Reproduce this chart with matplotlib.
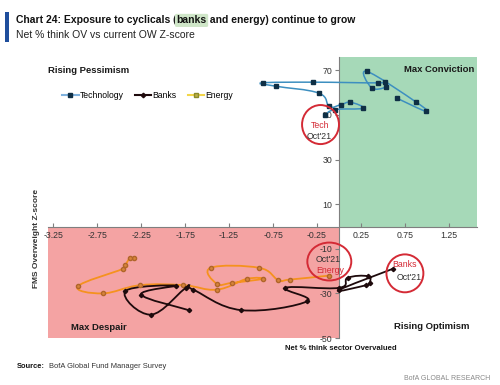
import numpy as np
import matplotlib
matplotlib.use("Agg")
import matplotlib.pyplot as plt
from matplotlib.path import Path
from matplotlib.patches import PathPatch, Ellipse, Rectangle
from matplotlib.lines import Line2D

# ---------------- data ----------------
tech_x = [0.66, 0.99, 0.88, 0.32, 0.37, 0.53, 0.52, 0.44, -0.29, -0.87, -0.72, -0.23, -0.11, 0.02, 0.13, 0.27, -0.05, -0.16]
tech_y = [57.5, 51.6, 55.7, 69.5, 62.2, 62.5, 65.0, 64.4, 64.7, 64.4, 62.9, 59.8, 53.8, 54.6, 55.7, 53.0, 52.4, 49.9]

banks_x = [-1.71, -2.25, -1.85, -2.43, -2.14, -1.74, -1.66, -1.11, -0.36, -0.61, 0.00, 0.10, 0.33, 0.35, 0.31, 0.00, 0.61]
banks_y = [-37.5, -30.5, -26.5, -29.0, -39.5, -27.5, -28.3, -37.5, -33.5, -27.5, -27.5, -23.0, -22.3, -25.3, -26.3, -28.5, -19.0]

energy_x = [-2.33, -2.38, -2.43, -2.46, -2.97, -2.69, -2.26, -1.77, -1.39, -1.05, -0.87, -1.22, -1.39, -1.46, -0.91, -0.69, -0.56, -0.11]
energy_y = [-14.3, -14.3, -17.3, -19.0, -26.8, -30.0, -26.3, -26.3, -28.3, -23.5, -23.5, -25.3, -25.7, -18.5, -18.5, -24.0, -23.8, -22.0]

x_ticks = [-3.25, -2.75, -2.25, -1.75, -1.25, -0.75, -0.25, 0.25, 0.75, 1.25]
y_ticks = [-50, -30, -10, 10, 30, 50, 70]
series_names = ["Technology", "Banks", "Energy"]

plt.rcParams['font.family'] = ['Liberation Sans', 'DejaVu Sans']

fig = plt.figure(figsize=(5, 3.85), dpi=100)
ax = fig.add_axes([0.096, 0.122, 0.858, 0.730])
XMIN, XMAX, YMIN, YMAX = -3.31, 1.57, -50, 76
ax.set_xlim(XMIN, XMAX)
ax.set_ylim(YMIN, YMAX)

# quadrant backgrounds
ax.add_patch(Rectangle((XMIN, YMIN), 0 - XMIN, 0 - YMIN, facecolor="#f4a3a3", edgecolor="none", zorder=0))
ax.add_patch(Rectangle((0, 0), XMAX, YMAX, facecolor="#a6d9b8", edgecolor="none", zorder=0))

def smooth_path(xs, ys, t=0.6):
    pts = np.column_stack([xs, ys]).astype(float)
    n = len(pts)
    verts = [pts[0]]
    codes = [Path.MOVETO]
    for i in range(n - 1):
        p0 = pts[i - 1] if i > 0 else pts[i]
        p1 = pts[i]
        p2 = pts[i + 1]
        p3 = pts[i + 2] if i + 2 < n else pts[i + 1]
        c1 = p1 + (p2 - p0) * t / 3.0
        c2 = p2 - (p3 - p1) * t / 3.0
        verts += [c1, c2, p2]
        codes += [Path.CURVE4] * 3
    return Path(verts, codes)

def draw_series(xs, ys, lc, lw, mk, ms, mfc, mec):
    ax.add_patch(PathPatch(smooth_path(xs, ys), facecolor="none", edgecolor=lc, lw=lw, zorder=3))
    ax.plot(xs, ys, linestyle="none", marker=mk, ms=ms, mfc=mfc, mec=mec, zorder=4)

draw_series(tech_x, tech_y, "#3d8fc0", 1.1, "s", 3.4, "#0f2f45", "#0f2f45")
draw_series(energy_x, energy_y, "#f5921e", 1.3, "o", 3.0, "#d7843a", "#b0652a")
draw_series(banks_x, banks_y, "#1e0a0c", 1.3, "D", 2.2, "#1e0a0c", "#1e0a0c")

# spines through origin
for s in ["top", "right"]:
    ax.spines[s].set_visible(False)
ax.spines["left"].set_position(("data", 0))
ax.spines["bottom"].set_position(("data", 0))
ax.spines["left"].set_color("#7f7f7f")
ax.spines["bottom"].set_color("#7f7f7f")
ax.spines["left"].set_bounds(YMIN, YMAX)
ax.spines["left"].set_zorder(2)
ax.spines["bottom"].set_zorder(2)
ax.set_xticks(x_ticks)
ax.set_xticklabels([f"{v:.2f}" for v in x_ticks])
ax.set_yticks(y_ticks)
ax.set_yticklabels([str(v) for v in y_ticks])
ax.tick_params(axis="both", labelsize=6.3, colors="#7f7f7f", labelcolor="#333333", length=3, width=0.8)
ax.tick_params(axis="x", direction="in", pad=3)
ax.tick_params(axis="y", direction="out", pad=2)

# red circles
red = "#d42a35"
for (cx, cy, w, h) in [(-0.21, 45.7, 0.42, 17.5), (-0.11, -15.7, 0.50, 17.0), (0.75, -21.0, 0.42, 17.0)]:
    ax.add_patch(Ellipse((cx, cy), w, h, facecolor="none", edgecolor=red, lw=1.4, zorder=5))
ckw = dict(fontsize=6.3, ha="center", va="center", zorder=6)
ax.text(-0.22, 45.3, "Tech", color=red, **ckw)
ax.text(-0.22, 40.3, "Oct'21", color="#333333", **ckw)
ax.text(-0.12, -14.6, "Oct'21", color="#333333", **ckw)
ax.text(-0.10, -19.6, "Energy", color=red, **ckw)
ax.text(0.74, -17.0, "Banks", color=red, **ckw)
ax.text(0.80, -23.0, "Oct'21", color="#333333", **ckw)

# quadrant labels
qkw = dict(fontsize=6.8, fontweight="bold", color="#1a1a1a")
ax.text(1.54, 70.4, "Max Conviction", ha="right", va="center", **qkw)
ax.text(-3.31, 70.0, "Rising Pessimism", ha="left", va="center", **qkw)
ax.text(-3.05, -45.3, "Max Despair", ha="left", va="center", **qkw)
ax.text(1.49, -44.8, "Rising Optimism", ha="right", va="center", **qkw)

# legend
handles = [
    Line2D([], [], color="#7fb2de", lw=1.5, marker="s", ms=3.2, mfc="#0f2f45", mec="#0f2f45"),
    Line2D([], [], color="#1e0a0c", lw=1.5, marker="D", ms=2.3, mfc="#1e0a0c", mec="#1e0a0c"),
    Line2D([], [], color="#f3d64a", lw=1.5, marker="s", ms=3.2, mfc="#bdb04a", mec="#8a8a2a"),
]
ax.legend(handles, series_names, loc="upper left", bbox_to_anchor=(0.015, 0.905), ncol=3,
          frameon=False, handlelength=1.9, handletextpad=0.15, columnspacing=1.3,
          prop={"size": 6.2})

# axis labels
fig.text(0.074, 0.38, "FMS Overweight Z-score", rotation=90, fontsize=6, fontweight="bold",
         color="#333333", ha="center", va="center")
fig.text(0.682, 0.096, "Net % think sector Overvalued", fontsize=5.6, fontweight="bold",
         color="#1a1a1a", ha="center", va="center")

# title block
fig.add_artist(Rectangle((0.010, 0.891), 0.007, 0.078, transform=fig.transFigure, facecolor="#1f4e9c", edgecolor="none"))
tkw = dict(fontsize=7.5, fontweight="bold", color="#111111", va="center")
renderer = fig.canvas.get_renderer()
x0 = 0.032
parts = [("Chart 24: Exposure to cyclicals (", None), ("banks", "#cfe6c8"), (" and energy) continue to grow", None)]
for txt, bg in parts:
    t = fig.text(x0, 0.947, txt, **tkw)
    if bg:
        t.set_bbox(dict(facecolor=bg, edgecolor="none", boxstyle="round,pad=0.15"))
    bb = t.get_window_extent(renderer=renderer)
    x0 = (bb.x1) / fig.bbox.width
fig.text(0.032, 0.910, "Net % think OV vs current OW Z-score", fontsize=7.5, color="#222222", va="center")

# footer
renderer = fig.canvas.get_renderer()
s1 = fig.text(0.034, 0.049, "Source:", fontsize=5.4, fontweight="bold", color="#111111", va="center")
bb = s1.get_window_extent(renderer=renderer)
fig.text(bb.x1 / fig.bbox.width + 0.008, 0.049, "BofA Global Fund Manager Survey", fontsize=5.4,
         color="#333333", va="center")
fig.text(0.98, 0.018, "BofA GLOBAL RESEARCH", fontsize=5, color="#888888", ha="right", va="center")

fig.savefig("out.png", dpi=100)
